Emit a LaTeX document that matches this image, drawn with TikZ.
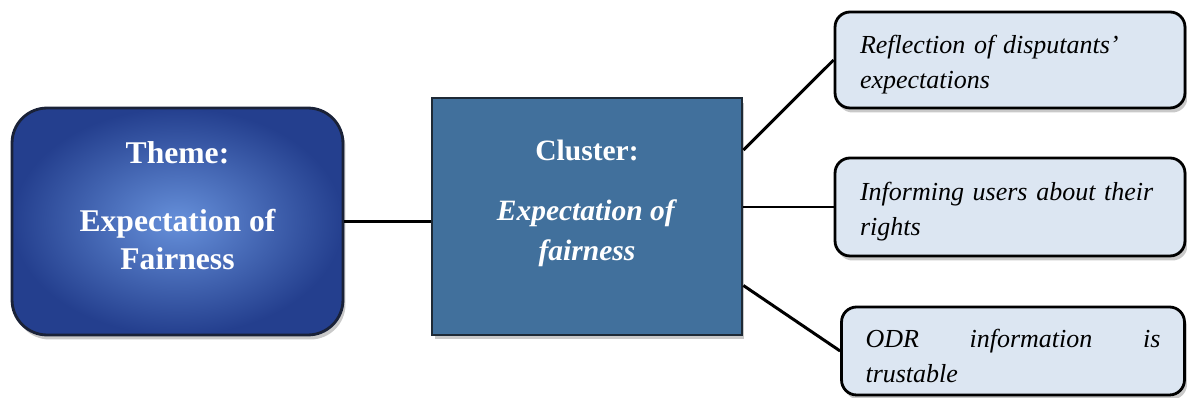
\documentclass[tikz,border=0pt]{standalone}
\usepackage{fontspec}
\setmainfont{Liberation Serif}[
  ItalicFont={Liberation Serif Italic},
  BoldFont={Liberation Serif Bold},
  BoldItalicFont={Liberation Serif Bold Italic}]
\usetikzlibrary{positioning,shadows}

\definecolor{themeIn}{HTML}{6690DA}
\definecolor{themeOut}{HTML}{243F8E}
\definecolor{themeLine}{HTML}{1A2238}
\definecolor{clusterFill}{HTML}{41709C}
\definecolor{clusterLine}{HTML}{1E2A36}
\definecolor{codeFill}{HTML}{DCE6F2}

\tikzset{
  softshadow/.style={drop shadow={shadow xshift=0.05cm,shadow yshift=-0.09cm,opacity=0.3,fill=black!70}},
  themebox/.style={rounded corners=0.7cm, draw=themeLine, line width=1.6pt,
    inner color=themeIn, outer color=themeOut, text=white, align=center,
    font=\fontsize{18}{22}\selectfont\bfseries,
    minimum width=6.62cm, minimum height=4.54cm, softshadow},
  clusterbox/.style={draw=clusterLine, line width=1.6pt, fill=clusterFill,
    text=white, align=center, font=\fontsize{16.8}{22.6}\selectfont\bfseries,
    minimum width=6.2cm, minimum height=4.74cm, softshadow},
  codebox/.style={rounded corners=0.3cm, draw=black, line width=1.6pt,
    fill=codeFill, align=left, text width=6cm,
    font=\fontsize{14.8}{20}\selectfont\itshape,
    execute at begin node=\rule{0pt}{16pt},
    minimum width=7cm, minimum height=1.92cm, softshadow},
  link/.style={line width=1.7pt, black}
}

\begin{document}
\begin{tikzpicture}[x=0.02cm,y=-0.02cm]
    \useasboundingbox (0,0) rectangle (1187,398);

    % theme and cluster
    \node[themebox] (thm) at (177.5,221.5)
      {Theme:\\[16.5pt]Expectation of\\Fairness\\[-4pt]\mbox{}};
    \node[clusterbox] (cls) at (587,216.5)
      {Cluster:\\[11.5pt]\textit{Expectation of}\\\textit{fairness}\\[-4pt]\mbox{}};

    % codes
    \node[codebox] (c1) at (1010,60) {Reflection of disputants'\\expectations};
    \node[codebox, minimum height=1.96cm] (c2) at (1010,207)
      {Informing users about their\\rights};
    \node[codebox, text width=5.9cm, minimum width=6.86cm, minimum height=1.76cm] (c3) at (1013,351)
      {ODR\hfill information\hfill is\\trustable};

    \draw[link] (thm.east) -- (thm.east -| cls.west);
    \draw[link] ([yshift=1.33cm]cls.east) -- (c1.west);
    \draw[link] (c2.west -| cls.east) -- (c2.west);
    \draw[link] ([yshift=-1.38cm]cls.east) -- (c3.west);
\end{tikzpicture}
\end{document}
